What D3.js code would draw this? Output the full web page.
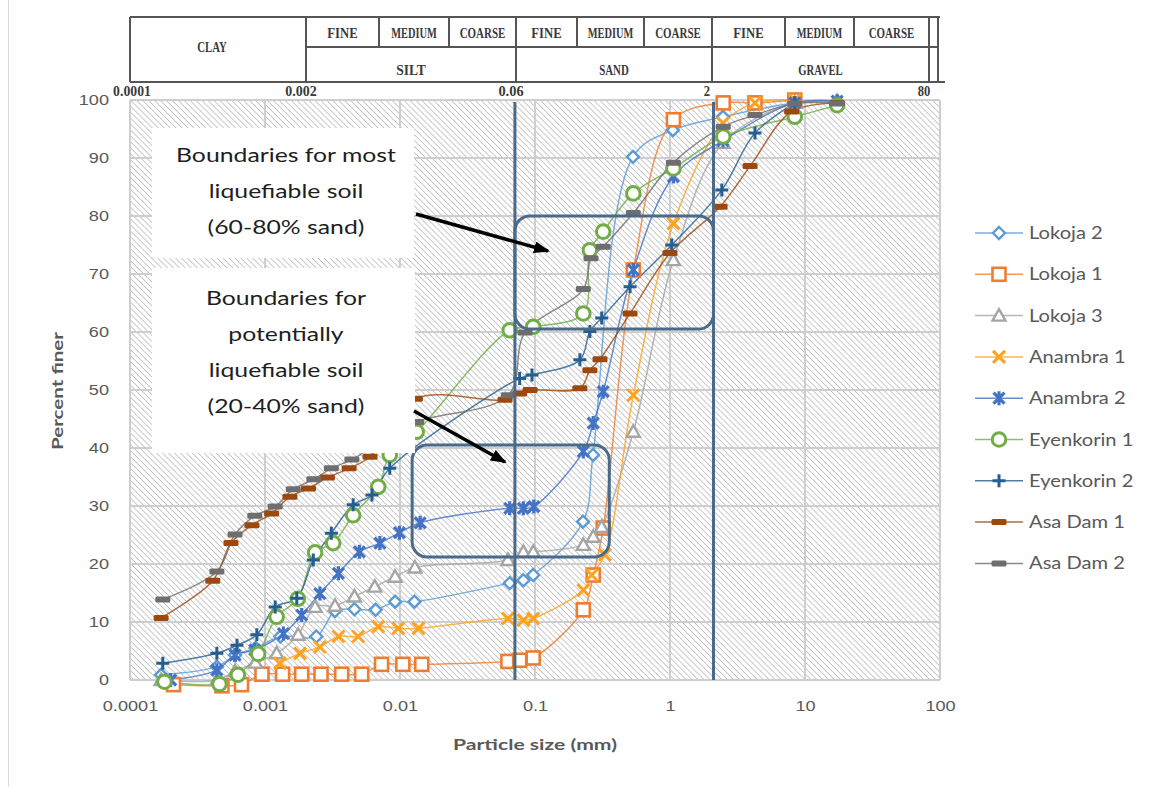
<!DOCTYPE html>
<html>
<head>
<meta charset="utf-8">
<script src="https://cdn.jsdelivr.net/npm/d3@7"></script>
<style>
  body { margin: 0; background: #fff; }
</style>
</head>
<body>
<svg id="chart" width="1152" height="787" font-family="Lato, 'Open Sans', sans-serif"></svg>
<script>
// particle size (mm) / percent finer
const lokoja2 = [[0.00017, 0.9], [0.00044, 2.3], [0.0006, 4.3], [0.00085, 5.5], [0.0013, 7.5], [0.0024, 7.5], [0.0033, 11.9], [0.0046, 12.2], [0.0066, 12.1], [0.0092, 13.5], [0.0128, 13.5], [0.065, 16.7], [0.082, 17.2], [0.097, 18.1], [0.227, 27.3], [0.269, 38.8], [0.532, 90.2], [1.05, 94.8], [2.47, 97.1], [8.4, 99.5], [17.3, 99.8]];
const lokoja1 = [[0.00021, -0.8], [0.00048, -1], [0.00067, -0.8], [0.00095, 1], [0.00135, 1], [0.00187, 1], [0.0026, 1], [0.0037, 1], [0.0052, 1], [0.0073, 2.7], [0.0105, 2.7], [0.0145, 2.7], [0.063, 3.2], [0.077, 3.4], [0.097, 3.8], [0.228, 12.1], [0.27, 18.1], [0.32, 26.2], [0.535, 70.7], [1.06, 96.6], [2.48, 99.5], [4.26, 99.5], [8.4, 100]];
const lokoja3 = [[0.00017, 0], [0.00044, 0], [0.0006, 1.5], [0.00085, 3], [0.00122, 4.6], [0.00176, 7.8], [0.00235, 12.6], [0.0033, 12.8], [0.0046, 14.4], [0.0065, 16.1], [0.0092, 17.8], [0.0129, 19.4], [0.063, 20.7], [0.082, 22.1], [0.097, 22.1], [0.228, 23.3], [0.27, 24.7], [0.312, 26.4], [0.535, 42.8], [1.06, 72.4], [2.47, 92.6], [8.4, 99.5], [17.3, 99.8]];
const anambra1 = [[0.00129, 2.9], [0.00182, 4.6], [0.00255, 5.7], [0.0035, 7.5], [0.0049, 7.5], [0.0069, 9.2], [0.0097, 8.9], [0.0137, 8.9], [0.063, 10.6], [0.082, 10.3], [0.097, 10.6], [0.228, 15.5], [0.263, 18.1], [0.33, 21.6], [0.535, 49.1], [1.06, 78.7], [2.47, 96], [4.26, 99.5], [8.4, 100]];
const anambra2 = [[0.0002, 0], [0.00044, 1.7], [0.0006, 4.3], [0.00084, 5.2], [0.00137, 8.0], [0.00187, 11.2], [0.00255, 14.9], [0.0035, 18.4], [0.005, 22.1], [0.0071, 23.6], [0.0099, 25.4], [0.0141, 27.1], [0.065, 29.6], [0.082, 29.6], [0.098, 29.9], [0.228, 39.4], [0.27, 44.3], [0.32, 49.7], [0.535, 70.7], [1.06, 86.8], [2.47, 93], [8.4, 99.5], [17.3, 99.8]];
const eyenkorin1 = [[0.00018, -0.3], [0.00046, -0.7], [0.00063, 0.9], [0.00089, 4.5], [0.00122, 10.9], [0.00175, 14.0], [0.00235, 22.0], [0.0032, 23.6], [0.0045, 28.4], [0.0069, 33.3], [0.0084, 38.8], [0.0133, 42.8], [0.065, 60.3], [0.097, 60.9], [0.228, 63.2], [0.255, 74.1], [0.32, 77.3], [0.535, 83.9], [1.06, 88.2], [2.48, 93.7], [8.4, 97.1], [17.3, 99.1]];
const eyenkorin2 = [[0.000175, 2.9], [0.00044, 4.6], [0.00062, 6.0], [0.00087, 7.8], [0.00119, 12.6], [0.00172, 14.1], [0.00228, 20.7], [0.0031, 25.3], [0.0045, 30.2], [0.0062, 31.9], [0.0084, 36.5], [0.077, 52.0], [0.095, 52.6], [0.215, 55.2], [0.255, 60.1], [0.312, 62.4], [0.506, 67.8], [1.03, 75.0], [2.42, 84.5], [4.26, 94.3], [8.4, 99.5]];
const asaDam1 = [[0.00017, 10.7], [0.00041, 17.1], [0.00056, 23.6], [0.0008, 26.7], [0.00112, 28.7], [0.00153, 31.6], [0.0021, 33.0], [0.0029, 34.9], [0.0042, 36.5], [0.006, 38.5], [0.013, 48.5], [0.06, 48.3], [0.077, 49.4], [0.092, 50.0], [0.215, 50.3], [0.255, 53.4], [0.303, 55.3], [0.506, 63.2], [1.0, 73.6], [2.35, 81.6], [3.92, 88.6], [7.96, 98.0], [17.3, 99.5]];
const asaDam2 = [[0.000175, 13.9], [0.00044, 18.7], [0.0006, 25.1], [0.00084, 28.3], [0.00119, 29.9], [0.00162, 32.9], [0.0023, 34.6], [0.0031, 36.5], [0.0044, 38.0], [0.0065, 40.5], [0.0133, 44.5], [0.0634, 49.1], [0.0843, 59.9], [0.228, 67.4], [0.26, 72.7], [0.32, 74.7], [0.535, 80.5], [1.06, 89.2], [2.48, 95.4], [4.26, 97.4], [8.4, 99.4], [17.3, 99.4]];

const seriesNames = ["Lokoja 2", "Lokoja 1", "Lokoja 3", "Anambra 1", "Anambra 2", "Eyenkorin 1", "Eyenkorin 2", "Asa Dam 1", "Asa Dam 2"];
const seriesData = [lokoja2, lokoja1, lokoja3, anambra1, anambra2, eyenkorin1, eyenkorin2, asaDam1, asaDam2];
const seriesColors = ["#5B9BD5", "#ED7D31", "#A5A5A5", "#FFA21F", "#4472C4", "#70AD47", "#255E91", "#9E480E", "#6E6E6E"];
const seriesMarkers = ["diamond", "square", "triangle", "x", "star", "circle", "plus", "dash", "dash"];

const sizeTicks = [0.0001, 0.001, 0.01, 0.1, 1, 10, 100];
const sizeTickLabels = ["0.0001", "0.001", "0.01", "0.1", "1", "10", "100"];
const pctTicks = [0, 10, 20, 30, 40, 50, 60, 70, 80, 90, 100];

// soil classification header
const classEdges = [130, 306, 379, 449, 516, 577, 644, 712, 785, 854, 929];
const classSub = ["", "FINE", "MEDIUM", "COARSE", "FINE", "MEDIUM", "COARSE", "FINE", "MEDIUM", "COARSE"];
const classMain = [["CLAY", 0, 1], ["SILT", 1, 4], ["SAND", 4, 7], ["GRAVEL", 7, 10]];
const classLimits = [["0.0001", 0], ["0.002", 1], ["0.06", 4], ["2", 7], ["80", 10]];

// liquefaction boundaries: [size from, size to, pct from, pct to]
const boundLines = [0.071, 2.1];
const boundBoxes = [[0.071, 2.1, 60.5, 80], [0.0123, 0.355, 21.2, 40.5]];

const svg = d3.select("#chart");
const x = d3.scaleLog().domain([0.0001, 100]).range([130, 940]);
const y = d3.scaleLinear().domain([0, 100]).range([680, 100]);

// the original picture is a little wider than its fonts, so text gets stretched
function stretch(sel, k) {
  sel.each(function () {
    const w = this.getComputedTextLength();
    d3.select(this).attr("textLength", w * k).attr("lengthAdjust", "spacingAndGlyphs");
  });
}

// left frame line of the chart area
svg.append("line").attr("x1", 8.5).attr("x2", 8.5).attr("y1", 0).attr("y2", 787)
  .attr("stroke", "#d9d9d9");

// hatched plot background
const defs = svg.append("defs");
defs.append("pattern").attr("id", "hatch").attr("patternUnits", "userSpaceOnUse")
  .attr("width", 4.2).attr("height", 4.2).attr("patternTransform", "rotate(-45)")
  .append("line").attr("x1", 0).attr("x2", 0).attr("y1", 0).attr("y2", 4.2)
  .attr("stroke", "#b3b3b3").attr("stroke-width", 1.4);
defs.append("marker").attr("id", "arrow").attr("markerUnits", "userSpaceOnUse")
  .attr("viewBox", "0 0 16 12").attr("refX", 14).attr("refY", 6)
  .attr("markerWidth", 16).attr("markerHeight", 12).attr("orient", "auto")
  .append("path").attr("d", "M0,0 L16,6 L0,12 Z").attr("fill", "#000");

svg.append("rect").attr("x", 130).attr("y", 100).attr("width", 810).attr("height", 580)
  .attr("fill", "url(#hatch)");

// gridlines
svg.append("g").selectAll("line").data(pctTicks).join("line")
  .attr("x1", 130).attr("x2", 940).attr("y1", d => y(d)).attr("y2", d => y(d))
  .attr("stroke", "#cecece").attr("stroke-width", 2);
svg.append("g").selectAll("line").data(sizeTicks).join("line")
  .attr("x1", d => x(d)).attr("x2", d => x(d)).attr("y1", 100).attr("y2", 680)
  .attr("stroke", "#cecece").attr("stroke-width", 2);

// axes
const xAxis = svg.append("g").attr("transform", "translate(0,680)")
  .call(d3.axisBottom(x).tickValues(sizeTicks).tickFormat((d, i) => sizeTickLabels[i]).tickSize(0).tickPadding(20));
xAxis.select(".domain").remove();
xAxis.selectAll("text").attr("font-size", 15.5).attr("fill", "#595959").attr("font-family", null);
stretch(xAxis.selectAll("text"), 1.17);

const yAxis = svg.append("g").attr("transform", "translate(130,0)")
  .call(d3.axisLeft(y).tickValues(pctTicks).tickSize(0).tickPadding(21));
yAxis.select(".domain").remove();
yAxis.selectAll("text").attr("font-size", 15.5).attr("fill", "#595959").attr("font-family", null);
stretch(yAxis.selectAll("text"), 1.17);

svg.append("text").attr("x", 535).attr("y", 750).attr("text-anchor", "middle")
  .attr("font-size", 16).attr("font-weight", "bold").attr("fill", "#595959")
  .attr("textLength", 164).attr("lengthAdjust", "spacingAndGlyphs")
  .text("Particle size (mm)");
svg.append("text").attr("transform", "translate(63,391) rotate(-90)").attr("text-anchor", "middle")
  .attr("font-size", 16).attr("font-weight", "bold").attr("fill", "#595959")
  .attr("textLength", 118).attr("lengthAdjust", "spacingAndGlyphs")
  .text("Percent finer");

// markers
function drawMarker(g, type, color) {
  if (type === "diamond") {
    g.append("path").attr("d", "M0,-6 L6,0 L0,6 L-6,0 Z")
      .attr("fill", "#fff").attr("stroke", color).attr("stroke-width", 2.4);
  } else if (type === "square") {
    g.append("rect").attr("x", -6.5).attr("y", -6.5).attr("width", 13).attr("height", 13)
      .attr("fill", "#fff").attr("stroke", color).attr("stroke-width", 2.6);
  } else if (type === "triangle") {
    g.append("path").attr("d", "M0,-6.5 L6.5,5 L-6.5,5 Z")
      .attr("fill", "#fff").attr("stroke", color).attr("stroke-width", 2.4);
  } else if (type === "x") {
    g.append("path").attr("d", "M-6,-6 L6,6 M6,-6 L-6,6")
      .attr("stroke", color).attr("stroke-width", 3);
  } else if (type === "star") {
    g.append("path").attr("d", "M-5.5,-5.5 L5.5,5.5 M5.5,-5.5 L-5.5,5.5 M0,-7 L0,7")
      .attr("stroke", color).attr("stroke-width", 3.2);
  } else if (type === "circle") {
    g.append("circle").attr("r", 6.8)
      .attr("fill", "#fff").attr("stroke", color).attr("stroke-width", 3);
  } else if (type === "plus") {
    g.append("path").attr("d", "M-6.5,0 L6.5,0 M0,-6.5 L0,6.5")
      .attr("stroke", color).attr("stroke-width", 3);
  } else if (type === "dash") {
    g.append("rect").attr("x", -7.5).attr("y", -3).attr("width", 15).attr("height", 6).attr("rx", 1.5)
      .attr("fill", color);
  }
}

const line = d3.line().x(d => x(d[0])).y(d => y(d[1])).curve(d3.curveCatmullRom.alpha(0.5));

const plot = svg.append("g");
seriesData.forEach((data, i) => {
  plot.append("path").datum(data).attr("d", line)
    .attr("fill", "none").attr("stroke", seriesColors[i]).attr("stroke-width", 1.5).attr("stroke-opacity", 0.8);
});
seriesData.forEach((data, i) => {
  plot.append("g").selectAll("g").data(data).join("g")
    .attr("transform", d => `translate(${x(d[0])},${y(d[1])})`)
    .each(function () { drawMarker(d3.select(this), seriesMarkers[i], seriesColors[i]); });
});

// boundary lines and boxes
const bound = svg.append("g").attr("stroke", "#4A6A8A").attr("fill", "none").attr("stroke-width", 3);
bound.selectAll("line").data(boundLines).join("line")
  .attr("x1", d => x(d)).attr("x2", d => x(d)).attr("y1", 102).attr("y2", 680);
bound.selectAll("rect").data(boundBoxes).join("rect")
  .attr("x", d => x(d[0])).attr("y", d => y(d[3]))
  .attr("width", d => x(d[1]) - x(d[0])).attr("height", d => y(d[2]) - y(d[3]))
  .attr("rx", 15);

// annotation text boxes
const notes = [
  { x: 152, y: 128, w: 262, h: 130, lines: ["Boundaries for most", "liquefiable soil", "(60-80% sand)"], y0: 162 },
  { x: 152, y: 268, w: 263, h: 185, lines: ["Boundaries for", "potentially", "liquefiable soil", "(20-40% sand)"], y0: 305 }
];
notes.forEach(n => {
  svg.append("rect").attr("x", n.x).attr("y", n.y).attr("width", n.w).attr("height", n.h).attr("fill", "#fff");
  const t = svg.append("g").selectAll("text").data(n.lines).join("text")
    .attr("x", 286).attr("y", (d, i) => n.y0 + i * 36).attr("text-anchor", "middle")
    .attr("font-size", 19.5).attr("fill", "#1e1e1e").text(d => d);
  stretch(t, 1.27);
});
svg.append("line").attr("x1", 416).attr("y1", 214).attr("x2", 548).attr("y2", 251)
  .attr("stroke", "#000").attr("stroke-width", 3.5).attr("marker-end", "url(#arrow)");
svg.append("line").attr("x1", 414).attr("y1", 411).attr("x2", 505).attr("y2", 462)
  .attr("stroke", "#000").attr("stroke-width", 3.5).attr("marker-end", "url(#arrow)");

// legend
const legend = svg.append("g").selectAll("g").data(seriesNames).join("g")
  .attr("transform", (d, i) => `translate(0,${233 + i * 41.3})`);
legend.append("line").attr("x1", 975).attr("x2", 1023)
  .attr("stroke", (d, i) => seriesColors[i]).attr("stroke-width", 1.5).attr("stroke-opacity", 0.8);
legend.append("g").attr("transform", "translate(999,0)")
  .each(function (d, i) { drawMarker(d3.select(this), seriesMarkers[i], seriesColors[i]); });
stretch(legend.append("text").attr("x", 1029).attr("y", 6).attr("font-size", 16.5).attr("fill", "#595959").text(d => d), 1.22);

// classification header table
const head = svg.append("g").attr("stroke", "#555").attr("stroke-width", 2).attr("fill", "none");
head.append("line").attr("x1", 130).attr("x2", 940).attr("y1", 17).attr("y2", 17);
head.append("line").attr("x1", 130).attr("x2", 945).attr("y1", 82).attr("y2", 82);
head.append("line").attr("x1", classEdges[1]).attr("x2", 938).attr("y1", 47).attr("y2", 47);
head.selectAll(".edge").data(classEdges).join("line").attr("class", "edge")
  .attr("x1", d => d).attr("x2", d => d).attr("y1", 17)
  .attr("y2", (d, i) => classMain.some(m => m[1] === i || m[2] === i) ? 82 : 47);
head.append("line").attr("x1", 938).attr("x2", 938).attr("y1", 17).attr("y2", 82);

const headText = svg.append("g").attr("font-family", "'Liberation Serif', 'DejaVu Serif', serif").attr("font-weight", "bold")
  .attr("fill", "#3a3a3a").attr("text-anchor", "middle").attr("font-size", 15);
headText.selectAll(".sub").data(classSub.slice(1)).join("text").attr("class", "sub")
  .attr("x", (d, i) => (classEdges[i + 1] + classEdges[i + 2]) / 2).attr("y", 38)
  .attr("textLength", d => d.length * 7.6).attr("lengthAdjust", "spacingAndGlyphs").text(d => d);
headText.selectAll(".main").data(classMain).join("text").attr("class", "main")
  .attr("x", d => (classEdges[d[1]] + classEdges[d[2]]) / 2 - (d[0] === "CLAY" ? 6 : 0))
  .attr("y", d => d[0] === "CLAY" ? 52 : 75)
  .attr("textLength", d => d[0].length * 7.4).attr("lengthAdjust", "spacingAndGlyphs").text(d => d[0]);
headText.selectAll(".lim").data(classLimits).join("text").attr("class", "lim")
  .attr("x", d => classEdges[d[1]] + (d[1] === 0 ? 2 : -5)).attr("y", 96)
  .attr("textLength", d => d[0].length * 6.3).attr("lengthAdjust", "spacingAndGlyphs").text(d => d[0]);
</script>
</body>
</html>
